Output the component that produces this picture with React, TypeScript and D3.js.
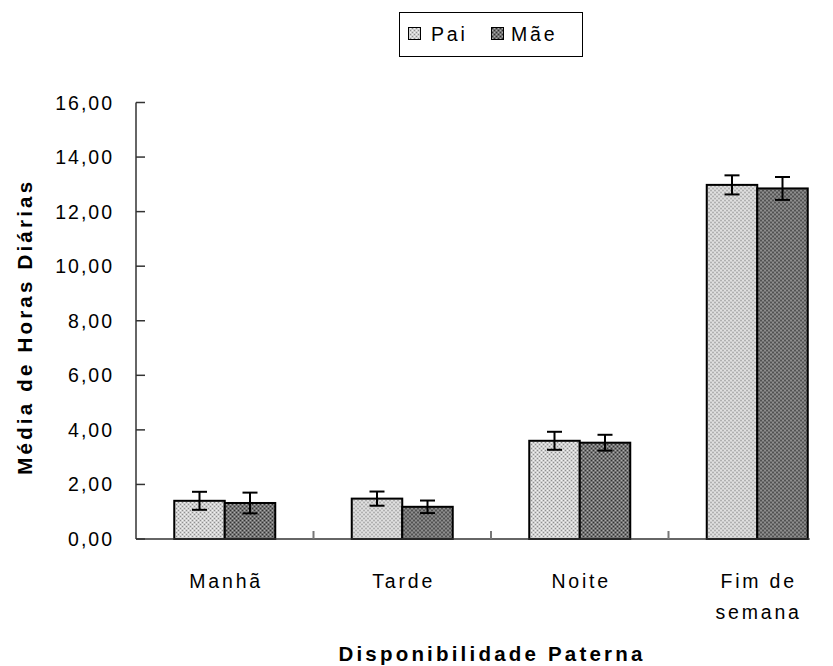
import React from "react";
import * as d3 from "d3";

const categories = ["Manhã", "Tarde", "Noite", "Fim de semana"];
const categoryLines = [["Manhã"], ["Tarde"], ["Noite"], ["Fim de", "semana"]];
const series = ["Pai", "Mãe"];
const paiValues = [1.4, 1.48, 3.6, 12.98];
const maeValues = [1.32, 1.18, 3.53, 12.85];
const paiErrors = [0.33, 0.26, 0.33, 0.35];
const maeErrors = [0.38, 0.23, 0.29, 0.42];
const yTicks = [0, 2, 4, 6, 8, 10, 12, 14, 16];
const yTitle = "Média de Horas Diárias";
const xTitle = "Disponibilidade Paterna";

const W = 833;
const H = 666;
const FONT = "'Liberation Sans', Arial, sans-serif";

export default function App() {
  const x0 = d3.scaleBand().domain(categories).range([136, 846]).paddingInner(0).paddingOuter(0);
  const bw = x0.bandwidth();
  const groupW = 101;
  const x1 = d3
    .scaleBand()
    .domain(series)
    .range([bw / 2 - groupW / 2, bw / 2 + groupW / 2]);
  const y = d3.scaleLinear().domain([0, 16]).range([539, 102.5]);

  const values = [paiValues, maeValues];
  const errors = [paiErrors, maeErrors];
  const fills = ["url(#patPai)", "url(#patMae)"];
  const lastRight = (x0(categories[categories.length - 1]) as number) + (x1("Mãe") as number) + x1.bandwidth();

  return (
    <svg
      width={W}
      height={H}
      style={{ position: "absolute", left: 0, top: 0, background: "#fff" }}
      fontFamily={FONT}
    >
      <defs>
        <pattern id="patPai" width="4" height="4" patternUnits="userSpaceOnUse">
          <rect width="4" height="4" fill="#d0d0d0" />
          <rect x="0" y="0" width="1" height="1" fill="#909090" />
          <rect x="2" y="2" width="1" height="1" fill="#909090" />
          <rect x="2" y="0" width="1" height="1" fill="#f2f2f2" />
          <rect x="0" y="2" width="1" height="1" fill="#f2f2f2" />
        </pattern>
        <pattern id="patMae" width="4" height="4" patternUnits="userSpaceOnUse">
          <rect width="4" height="4" fill="#727272" />
          <rect x="0" y="0" width="1" height="1" fill="#333" />
          <rect x="2" y="2" width="1" height="1" fill="#333" />
          <rect x="2" y="0" width="1" height="1" fill="#aaa" />
          <rect x="0" y="2" width="1" height="1" fill="#aaa" />
        </pattern>
      </defs>

      {/* Legend */}
      <g>
        <rect x={399.5} y={12.5} width={183} height={44} fill="#fff" stroke="#000" strokeWidth={1} />
        <rect x={408.5} y={27.5} width={12} height={12} fill="url(#patPai)" stroke="#000" strokeWidth={1} />
        <text x={431} y={41} fontSize={19.5} letterSpacing={2.8} fill="#000">Pai</text>
        <rect x={491.5} y={27.5} width={12} height={12} fill="url(#patMae)" stroke="#000" strokeWidth={1} />
        <text x={511} y={41} fontSize={19.5} letterSpacing={2.8} fill="#000">Mãe</text>
      </g>

      {/* Bars */}
      {categories.map((c, i) => (
        <g key={c} transform={`translate(${x0(c)},0)`}>
          {series.map((s, j) => {
            const v = values[j][i];
            const e = errors[j][i];
            const bx = x1(s) as number;
            const w = x1.bandwidth();
            const cx = bx + w / 2;
            return (
              <g key={s}>
                <rect
                  x={bx}
                  y={y(v)}
                  width={w}
                  height={y(0) - y(v)}
                  fill={fills[j]}
                  stroke="#000"
                  strokeWidth={2}
                />
                <line x1={cx} x2={cx} y1={y(v + e)} y2={y(v - e)} stroke="#000" strokeWidth={2} />
                <line x1={cx - 7.5} x2={cx + 7.5} y1={y(v + e)} y2={y(v + e)} stroke="#000" strokeWidth={2} />
                <line x1={cx - 7.5} x2={cx + 7.5} y1={y(v - e)} y2={y(v - e)} stroke="#000" strokeWidth={2} />
              </g>
            );
          })}
        </g>
      ))}

      {/* Y axis */}
      <line x1={136} x2={136} y1={y(16)} y2={y(0)} stroke="#333" strokeWidth={1.5} />
      {yTicks.map((t) => (
        <g key={t}>
          <line x1={136} x2={145} y1={y(t)} y2={y(t)} stroke="#333" strokeWidth={1.5} />
          <text
            x={114}
            y={y(t)}
            dy="0.36em"
            textAnchor="end"
            fontSize={19.5}
            letterSpacing={2}
            fill="#000"
          >
            {d3.format(".2f")(t).replace(".", ",")}
          </text>
        </g>
      ))}

      {/* X axis */}
      <line x1={136} x2={lastRight + 2} y1={y(0)} y2={y(0)} stroke="#333" strokeWidth={1.5} />
      {categories.slice(1).map((c) => (
        <line
          key={c}
          x1={x0(c) as number}
          x2={x0(c) as number}
          y1={y(0)}
          y2={y(0) - 8}
          stroke="#777"
          strokeWidth={2}
        />
      ))}
      {categories.map((c, i) => (
        <text
          key={c}
          x={(x0(c) as number) + bw / 2}
          y={588}
          textAnchor="middle"
          fontSize={19.5}
          letterSpacing={2.8}
          fill="#000"
        >
          {categoryLines[i].map((ln, k) => (
            <tspan key={k} x={(x0(c) as number) + bw / 2 + 1.4} dy={k === 0 ? 0 : 31}>
              {ln}
            </tspan>
          ))}
        </text>
      ))}

      {/* Titles */}
      <text
        x={492}
        y={661}
        textAnchor="middle"
        fontSize={20.5}
        fontWeight="bold"
        letterSpacing={3.2}
        fill="#000"
      >
        {xTitle}
      </text>
      <text
        transform={`translate(32,${(y(0) + y(16)) / 2 + 6}) rotate(-90)`}
        textAnchor="middle"
        fontSize={20.5}
        fontWeight="bold"
        letterSpacing={3.2}
        fill="#000"
      >
        {yTitle}
      </text>
    </svg>
  );
}
